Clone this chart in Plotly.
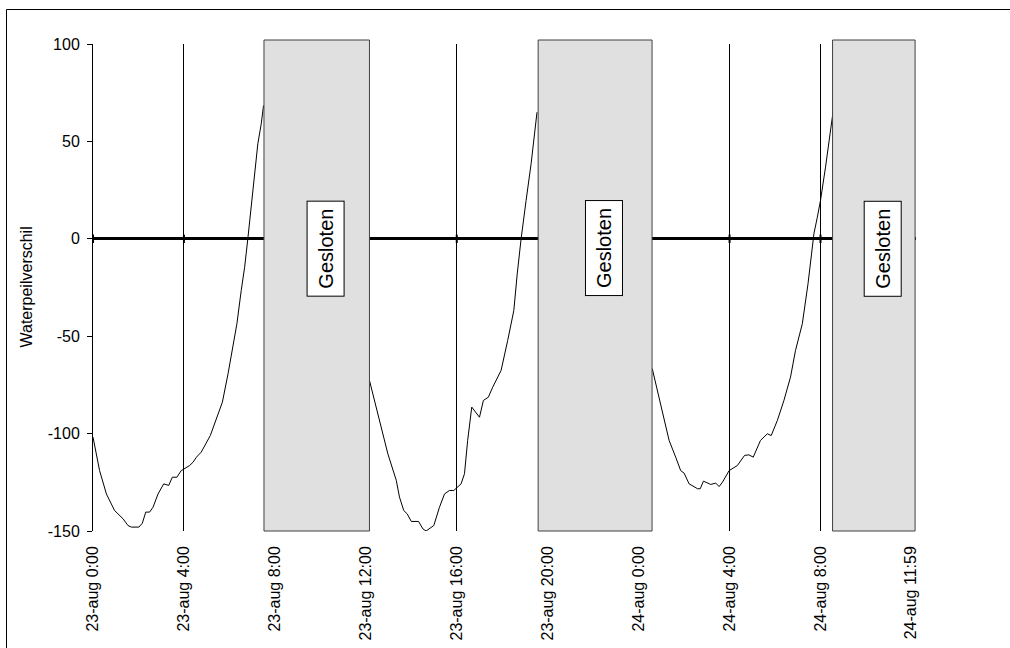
import plotly.graph_objects as go

# ---- data (hours since 23-aug 0:00) ----
seg1_h = [0, 0.29, 0.59, 0.95, 1.32, 1.54, 1.69, 2.02, 2.17, 2.32, 2.49, 2.64, 2.86, 3.11, 3.33, 3.49,
          3.69, 3.88, 4.25, 4.40, 4.55, 4.76, 5.16, 5.35, 5.69, 5.94, 6.15, 6.33, 6.52, 6.67, 6.81,
          6.96, 7.11, 7.25, 7.40, 7.50]
seg1_v = [-101.8, -119, -131, -139.5, -143.7, -147.2, -148, -148, -146, -140.3, -140.3, -137.8, -131,
          -125.8, -126.6, -122.4, -122.4, -119, -116.4, -114.7, -112.1, -109.5, -101, -95, -83.9,
          -69.3, -55.6, -43.6, -26.5, -14.6, 0, 16.2, 33.4, 48.8, 59, 68.4]

seg2_h = [12.16, 12.38, 12.68, 12.97, 13.34, 13.48, 13.67, 13.82, 14.0, 14.32, 14.51, 14.65, 14.99,
          15.24, 15.46, 15.68, 15.87, 16.19, 16.34, 16.48, 16.66, 17.0, 17.17, 17.39, 17.58, 17.95,
          18.24, 18.51, 18.66, 18.83, 19.05, 19.27, 19.53]
seg2_v = [-72.7, -83, -98.4, -110.4, -124, -132.6, -139.5, -141.2, -145.1, -145.1, -148.9, -150,
          -147.2, -137.8, -131, -129.2, -129.2, -125.8, -120.6, -103.5, -86.4, -91.6, -83, -81.3,
          -76.2, -67.6, -52.2, -36.8, -18, 0, 19.7, 38.5, 65]

seg3_h = [24.6, 24.82, 25.12, 25.34, 25.63, 25.85, 26.0, 26.22, 26.59, 26.71, 26.85, 27.17, 27.39,
          27.54, 27.69, 27.98, 28.34, 28.66, 28.85, 29.04, 29.36, 29.66, 29.83, 30.1, 30.39, 30.68,
          30.9, 31.2, 31.45, 31.59, 31.71, 31.86, 32.0, 32.22, 32.41, 32.55]
seg3_v = [-66.7, -77.9, -91.6, -103.5, -112.1, -119, -120.3, -125.8, -128.3, -128.3, -124.4, -126.1,
          -125.4, -127.2, -124.9, -119, -116.4, -111.2, -110.9, -112.1, -103.5, -100.1, -101, -93.3,
          -83, -71, -57.3, -43.6, -23.1, -7.7, 2.6, 11.1, 19.7, 36.8, 52.2, 65]

closed_start = [7.52, 19.58, 32.53]
closed_end = [12.16, 24.59, 36.16]
closed_label = "Gesloten"

tick_hours = [0, 4, 8, 12, 16, 20, 24, 28, 32, 35.983]
tick_labels = ["23-aug 0:00", "23-aug 4:00", "23-aug 8:00", "23-aug 12:00", "23-aug 16:00",
               "23-aug 20:00", "24-aug 0:00", "24-aug 4:00", "24-aug 8:00", "24-aug 11:59"]

y_ticks = [-150, -100, -50, 0, 50, 100]
y_title = "Waterpeilverschil"

# ---- layout constants ----
W, H = 1010, 648
ML, MR, MT, MB = 93, 94, 44, 117
PW, PH = W - ML - MR, H - MT - MB
FONT = "Liberation Sans, Arial, sans-serif"

xs = seg1_h + [None] + seg2_h + [None] + seg3_h
ys = seg1_v + [None] + seg2_v + [None] + seg3_v

fig = go.Figure()
fig.add_trace(go.Scatter(x=xs, y=ys, mode="lines", line=dict(color="black", width=1),
                         connectgaps=False, showlegend=False, hoverinfo="skip"))
fig.add_trace(go.Scatter(x=tick_hours, y=[0] * len(tick_hours), mode="markers",
                         marker=dict(symbol="line-ns", size=6, line=dict(color="black", width=2)),
                         showlegend=False, hoverinfo="skip"))

for s, e in zip(closed_start, closed_end):
    fig.add_shape(type="rect", xref="x", yref="paper", x0=s, x1=e, y0=0, y1=1 + 4 / PH,
                  fillcolor="#e0e0e0", line=dict(color="#404040", width=1), layer="above")
    fig.add_annotation(x=(s + e) / 2 + 0.37, y=-5, xref="x", yref="y", text=closed_label,
                       textangle=-90, showarrow=False, bgcolor="white", bordercolor="black",
                       borderwidth=1, borderpad=7, font=dict(family=FONT, size=20, color="black"))

# y-axis title
fig.add_annotation(x=(26 - ML) / PW, y=0.5, xref="paper", yref="paper", text=y_title,
                   textangle=-90, showarrow=False, xanchor="center", yanchor="middle",
                   font=dict(family=FONT, size=16, color="black"))

# outer frame (left and top edges visible)
fig.add_shape(type="rect", xref="paper", yref="paper", x0=(6.5 - ML) / PW,
              x1=(W + 20 - ML) / PW, y0=-(MB + 20) / PH, y1=1 + (MT - 9.5) / PH,
              line=dict(color="black", width=1), fillcolor="rgba(0,0,0,0)", layer="above")

fig.update_layout(
    width=W, height=H,
    margin=dict(l=ML, r=MR, t=MT, b=MB, autoexpand=False),
    paper_bgcolor="white", plot_bgcolor="white",
    font=dict(family=FONT, size=16, color="black"),
    xaxis=dict(range=[0, 36.2], tickmode="array", tickvals=tick_hours, ticktext=tick_labels,
               tickangle=-90, showgrid=True, gridcolor="black", gridwidth=1,
               zeroline=False, showline=False, ticks="", ticklabelstandoff=11, automargin=False,
               tickfont=dict(family=FONT, size=16, color="black")),
    yaxis=dict(range=[-150, 100], tickmode="array", tickvals=y_ticks,
               ticktext=[str(v) for v in y_ticks], showgrid=False,
               zeroline=True, zerolinecolor="black", zerolinewidth=2.5,
               showline=True, linecolor="black", linewidth=1,
               ticks="outside", ticklen=5, tickcolor="black", tickwidth=1,
               ticklabelstandoff=4, automargin=False,
               tickfont=dict(family=FONT, size=16, color="black")),
)

fig.write_html("out.html")
